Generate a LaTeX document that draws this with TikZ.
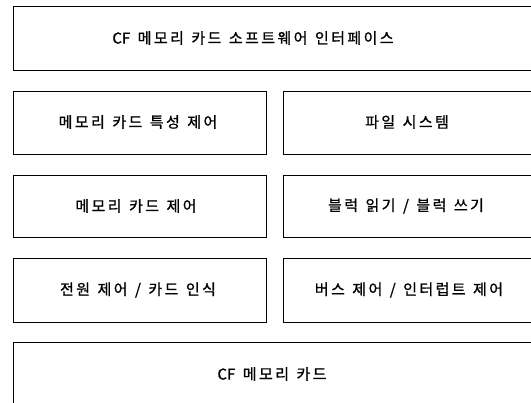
\documentclass[tikz,border=0pt]{standalone}
\usepackage{fontspec}
\newfontfamily\kr[LetterSpace=16,FakeBold=1,WordSpace=1.3]{Noto Sans CJK KR}
\newfontfamily\krlat[FakeBold=1]{Noto Sans CJK KR}
\newcommand\CFtxt{{\krlat CF}}
\begin{document}
\begin{tikzpicture}[x=1pt,y=-1pt,
  box/.style={draw=black, line width=0.9pt, inner sep=0pt, anchor=north west},
  lbl/.style={font=\kr\fontsize{15}{17}\selectfont, inner sep=0pt, text=black}]
\useasboundingbox (0,0) rectangle (531,403);
\clip (0,0) rectangle (531,403);
\fill[white] (0,0) rectangle (531,403);
% boxes
\node[box, minimum width=530pt, minimum height=64pt] (top) at (12.5,6) {};
\node[box, minimum width=253.5pt, minimum height=63pt] (r2l) at (12.5,91) {};
\node[box, minimum width=260pt, minimum height=63pt] (r2r) at (283,91) {};
\node[box, minimum width=253.5pt, minimum height=62pt] (r3l) at (12.5,175) {};
\node[box, minimum width=260pt, minimum height=62pt] (r3r) at (283,175) {};
\node[box, minimum width=253.5pt, minimum height=64pt] (r4l) at (12.5,258) {};
\node[box, minimum width=260pt, minimum height=64pt] (r4r) at (283,258) {};
\node[box, minimum width=530pt, minimum height=80pt] (bot) at (12.5,342) {};
% labels
\node[lbl] (ttop) at (253,38) {\CFtxt{} 메모리 카드 소프트웨어 인터페이스};
\node[lbl] (t2l) at (138,122) {메모리 카드 특성 제어};
\node[lbl] (t2r) at (407,122) {파일 시스템};
\node[lbl] (t3l) at (136,206) {메모리 카드 제어};
\node[lbl] (t3r) at (406,206) {블럭 읽기 / 블럭 쓰기};
\node[lbl] (t4l) at (138,290) {전원 제어 / 카드 인식};
\node[lbl] (t4r) at (409,290) {버스 제어 / 인터럽트 제어};
\node[lbl] (tbot) at (272,374) {\CFtxt{} 메모리 카드};
\end{tikzpicture}
\end{document}
